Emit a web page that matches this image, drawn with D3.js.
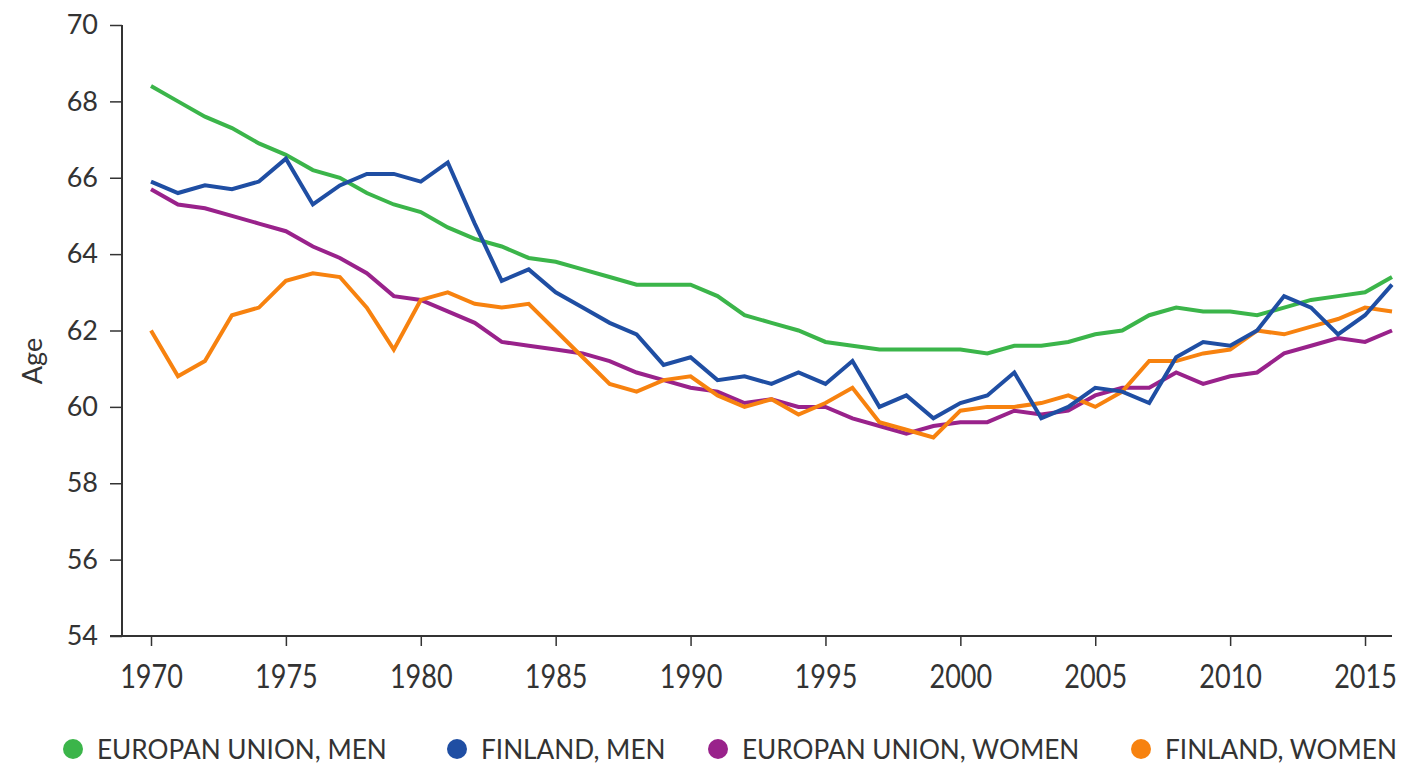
<!DOCTYPE html>
<html>
<head>
<meta charset="utf-8">
<script src="https://cdn.jsdelivr.net/npm/d3@7"></script>
<style>
  body { margin: 0; background: #fff; }
  text { font-family: Lato, "Open Sans", sans-serif; fill: #333; }
</style>
</head>
<body>
<div id="app"></div>
<script>
// years 1970..2016
const years = d3.range(1970, 2017);

const euMen = [68.4, 68.0, 67.6, 67.3, 66.9, 66.6, 66.2, 66.0, 65.6, 65.3,
  65.1, 64.7, 64.4, 64.2, 63.9, 63.8, 63.6, 63.4, 63.2, 63.2,
  63.2, 62.9, 62.4, 62.2, 62.0, 61.7, 61.6, 61.5, 61.5, 61.5,
  61.5, 61.4, 61.6, 61.6, 61.7, 61.9, 62.0, 62.4, 62.6, 62.5,
  62.5, 62.4, 62.6, 62.8, 62.9, 63.0, 63.4];

const finMen = [65.9, 65.6, 65.8, 65.7, 65.9, 66.5, 65.3, 65.8, 66.1, 66.1,
  65.9, 66.4, 64.8, 63.3, 63.6, 63.0, 62.6, 62.2, 61.9, 61.1,
  61.3, 60.7, 60.8, 60.6, 60.9, 60.6, 61.2, 60.0, 60.3, 59.7,
  60.1, 60.3, 60.9, 59.7, 60.0, 60.5, 60.4, 60.1, 61.3, 61.7,
  61.6, 62.0, 62.9, 62.6, 61.9, 62.4, 63.2];

const euWomen = [65.7, 65.3, 65.2, 65.0, 64.8, 64.6, 64.2, 63.9, 63.5, 62.9,
  62.8, 62.5, 62.2, 61.7, 61.6, 61.5, 61.4, 61.2, 60.9, 60.7,
  60.5, 60.4, 60.1, 60.2, 60.0, 60.0, 59.7, 59.5, 59.3, 59.5,
  59.6, 59.6, 59.9, 59.8, 59.9, 60.3, 60.5, 60.5, 60.9, 60.6,
  60.8, 60.9, 61.4, 61.6, 61.8, 61.7, 62.0];

const finWomen = [62.0, 60.8, 61.2, 62.4, 62.6, 63.3, 63.5, 63.4, 62.6, 61.5,
  62.8, 63.0, 62.7, 62.6, 62.7, 62.0, 61.3, 60.6, 60.4, 60.7,
  60.8, 60.3, 60.0, 60.2, 59.8, 60.1, 60.5, 59.6, 59.4, 59.2,
  59.9, 60.0, 60.0, 60.1, 60.3, 60.0, 60.4, 61.2, 61.2, 61.4,
  61.5, 62.0, 61.9, 62.1, 62.3, 62.6, 62.5];

const xTicks = [1970, 1975, 1980, 1985, 1990, 1995, 2000, 2005, 2010, 2015];
const yTicks = [54, 56, 58, 60, 62, 64, 66, 68, 70];

const seriesNames = ["EUROPAN UNION, MEN", "FINLAND, MEN", "EUROPAN UNION, WOMEN", "FINLAND, WOMEN"];
const seriesColors = ["#3bb54a", "#1f4ea3", "#99228b", "#f7820f"];
const seriesValues = [euMen, finMen, euWomen, finWomen];

const width = 1403, height = 772;

const svg = d3.select("#app").append("svg")
  .attr("width", width)
  .attr("height", height);

const x = d3.scaleLinear().domain([1970, 2016]).range([151, 1392]);
const y = d3.scaleLinear().domain([54, 70]).range([636, 25]);

// y軸
const yAxis = svg.append("g")
  .attr("transform", "translate(122,0)")
  .call(d3.axisLeft(y).tickValues(yTicks).tickSize(12).tickPadding(12).tickFormat(d3.format("d")));
yAxis.select(".domain").attr("stroke", "#333").attr("stroke-width", 2).attr("d", `M0,${y(70)}V${y(54)}`);
yAxis.selectAll(".tick line").attr("stroke", "#333").attr("stroke-width", 1.5);
yAxis.selectAll(".tick text")
  .attr("font-size", 27)
  .style("fill", "#333");

// x軸
const xAxis = svg.append("g")
  .attr("transform", `translate(0,${y(54)})`)
  .call(d3.axisBottom(x).tickValues(xTicks).tickSize(10).tickPadding(19).tickFormat(d3.format("d")));
xAxis.select(".domain").attr("stroke", "#333").attr("stroke-width", 2).attr("d", `M110,0H1392`);
xAxis.selectAll(".tick line").attr("stroke", "#333").attr("stroke-width", 1.5);
xAxis.selectAll(".tick text")
  .attr("font-size", 33)
  .attr("transform", "scale(0.82,1)")
  .style("fill", "#333");

// 軸タイトル
svg.append("text")
  .attr("transform", `translate(42,${y(61.2)}) rotate(-90)`)
  .attr("text-anchor", "middle")
  .attr("font-size", 27)
  .text("Age");

// 線
const line = d3.line()
  .x((d, i) => x(years[i]))
  .y(d => y(d));

const drawOrder = [0, 2, 3, 1];
svg.append("g").selectAll("path")
  .data(drawOrder)
  .join("path")
  .attr("fill", "none")
  .attr("stroke", i => seriesColors[i])
  .attr("stroke-width", 4)
  .attr("stroke-linejoin", "miter")
  .attr("d", i => line(seriesValues[i]));

// 凡例
const legendX = [73, 457, 718, 1141];
const legend = svg.append("g").selectAll("g")
  .data(seriesNames)
  .join("g")
  .attr("transform", (d, i) => `translate(${legendX[i]},749)`);

legend.append("circle")
  .attr("r", 10)
  .attr("fill", (d, i) => seriesColors[i]);

legend.append("g")
  .attr("transform", "translate(24,10) scale(0.97,1)")
  .append("text")
  .attr("font-size", 27)
  .text(d => d);
</script>
</body>
</html>
